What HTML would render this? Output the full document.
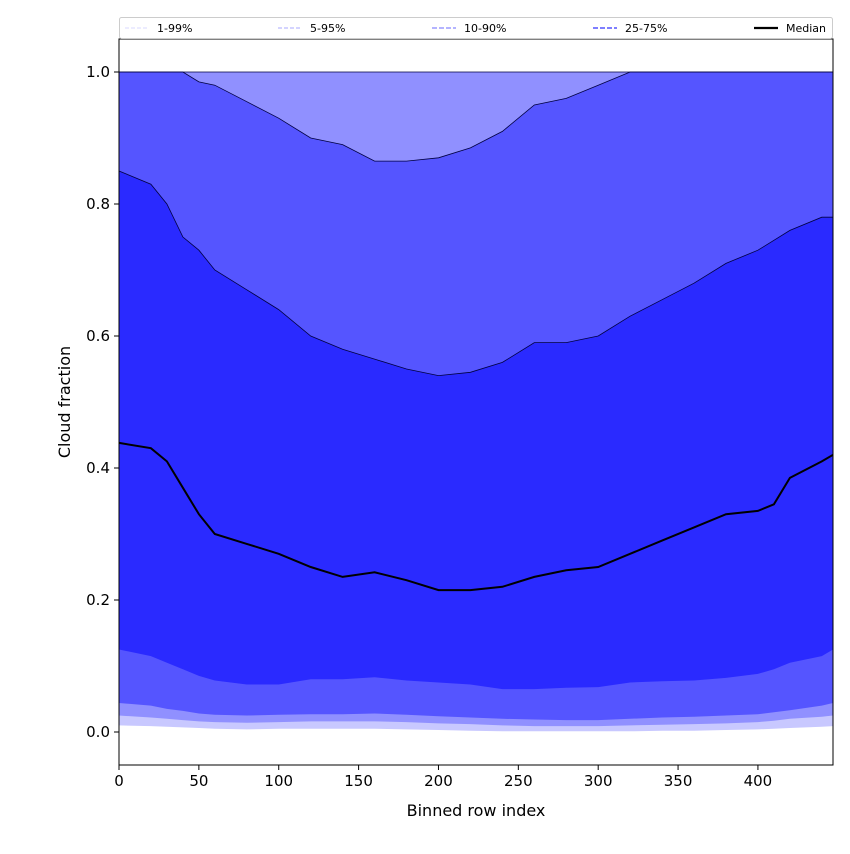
<!DOCTYPE html>
<html><head><meta charset="utf-8"><style>
body{margin:0;background:#fff;font-family:"DejaVu Sans",sans-serif}
</style></head><body>
<svg id="chart" width="850" height="850" xmlns="http://www.w3.org/2000/svg" font-family="DejaVu Sans, sans-serif"></svg>
<script>
const xs = [0,20,30,40,50,60,80,100,120,140,160,180,200,220,240,260,280,300,320,340,360,380,400,410,420,440,447];
const median = [0.438,0.43,0.41,0.37,0.33,0.30,0.285,0.27,0.25,0.235,0.242,0.23,0.215,0.215,0.22,0.235,0.245,0.25,0.27,0.29,0.31,0.33,0.335,0.345,0.385,0.41,0.42];
const p75 = [0.85,0.83,0.80,0.75,0.73,0.70,0.67,0.64,0.60,0.58,0.565,0.55,0.54,0.545,0.56,0.59,0.59,0.60,0.63,0.655,0.68,0.71,0.73,0.745,0.76,0.78,0.78];
const p90 = [1,1,1,1,0.985,0.98,0.955,0.93,0.90,0.89,0.865,0.865,0.87,0.885,0.91,0.95,0.96,0.98,1,1,1,1,1,1,1,1,1];
const p95 = [1,1,1,1,1,1,1,1,1,1,1,1,1,1,1,1,1,1,1,1,1,1,1,1,1,1,1];
const p99 = [1,1,1,1,1,1,1,1,1,1,1,1,1,1,1,1,1,1,1,1,1,1,1,1,1,1,1];
const p25 = [0.125,0.115,0.105,0.095,0.085,0.078,0.072,0.072,0.08,0.08,0.083,0.078,0.075,0.072,0.065,0.065,0.067,0.068,0.075,0.077,0.078,0.082,0.088,0.095,0.105,0.115,0.125];
const p10 = [0.044,0.04,0.035,0.032,0.028,0.026,0.025,0.026,0.027,0.027,0.028,0.026,0.024,0.022,0.02,0.019,0.018,0.018,0.02,0.022,0.023,0.025,0.027,0.03,0.033,0.04,0.044];
const p5 = [0.025,0.022,0.02,0.018,0.016,0.015,0.014,0.015,0.016,0.016,0.016,0.015,0.013,0.012,0.01,0.009,0.009,0.009,0.01,0.011,0.012,0.013,0.015,0.017,0.02,0.023,0.025];
const p1 = [0.01,0.009,0.008,0.007,0.006,0.005,0.004,0.005,0.005,0.005,0.005,0.004,0.003,0.002,0.001,0.001,0.001,0.001,0.001,0.002,0.002,0.003,0.004,0.005,0.006,0.008,0.009];
const xTicks = [0,50,100,150,200,250,300,350,400];
const yTicks = [0.0,0.2,0.4,0.6,0.8,1.0];
const yTickLabels = ["0.0","0.2","0.4","0.6","0.8","1.0"];

const L=119,R=833,T=39,B=765;
const X=v=>L+(v-0)*(R-L)/447;
const Y=v=>732-v*660;
const svg=document.getElementById('chart');
const NS='http://www.w3.org/2000/svg';
function mk(t,a,p){const e=document.createElementNS(NS,t);for(const k in a)e.setAttribute(k,a[k]);(p||svg).appendChild(e);return e;}
function pts(arr){return xs.map((x,i)=>X(x).toFixed(1)+','+Y(arr[i]).toFixed(1));}
function band(lo,hi,col,name){
  const d='M'+pts(hi).join('L')+'L'+pts(lo).reverse().join('L')+'Z';
  const e=mk('path',{d:d,fill:col,stroke:'none'});
  
  
}
band(p1,p99,'#c8c8ff','band-1-99');
band(p5,p95,'#9090ff','band-5-95');
band(p10,p90,'#5555ff','band-10-90');
band(p25,p75,'#2a2aff','band-25-75');
function line(arr,w,name,col){
  const e=mk('path',{d:'M'+pts(arr).join('L'),fill:'none',stroke:col,'stroke-width':w});
  
  
}
line(p95,0.7,'p95-line','#000040');
line(p90,0.8,'p90-line','#000040');
line(p75,0.8,'p75-line','#000040');
line(median,2,'median-line','#000');
const frame=mk('rect',{x:L,y:T,width:R-L,height:B-T,fill:'none',stroke:'#000','stroke-width':1});


xTicks.forEach(v=>{
  const t=mk('line',{x1:X(v),x2:X(v),y1:B,y2:B+5,stroke:'#000'});
  
  
  const l=mk('text',{x:X(v),y:B+21,'font-size':15,'text-anchor':'middle'});
  l.textContent=v;
  
  
});
yTicks.forEach((v,i)=>{
  const t=mk('line',{x1:L-5,x2:L,y1:Y(v),y2:Y(v),stroke:'#000'});
  
  
  const l=mk('text',{x:L-9,y:Y(v)+5,'font-size':15,'text-anchor':'end'});
  l.textContent=yTickLabels[i];
  
  
});
const xt=mk('text',{x:(L+R)/2,y:816,'font-size':16,'text-anchor':'middle'});
xt.textContent='Binned row index';


const yt=mk('text',{x:70,y:(T+B)/2,'font-size':16,'text-anchor':'middle',transform:'rotate(-90 70 '+((T+B)/2)+')'});
yt.textContent='Cloud fraction';


const lg=mk('g',{});


mk('rect',{x:119.5,y:17.5,width:713,height:21,fill:'#fff',stroke:'#ccc','stroke-width':1,rx:2},lg);
const legItems=[["1-99%",125,'#d8d8ff','4,2',1],["5-95%",278,'#a8a8ff','4,2',1],["10-90%",432,'#8888ff','5,2',1.3],["25-75%",593,'#5555ff','5,2',1.6],["Median",754,'#000','',2.2]];
legItems.forEach(it=>{
  const g=mk('g',{},lg);
  
  
  const a={x1:it[1],x2:it[1]+24,y1:28,y2:28,stroke:it[2],'stroke-width':it[4]};
  if(it[3])a['stroke-dasharray']=it[3];
  mk('line',a,g);
  const t=mk('text',{x:it[1]+32,y:32,'font-size':11},g);
  t.textContent=it[0];
});
</script>
</body></html>
